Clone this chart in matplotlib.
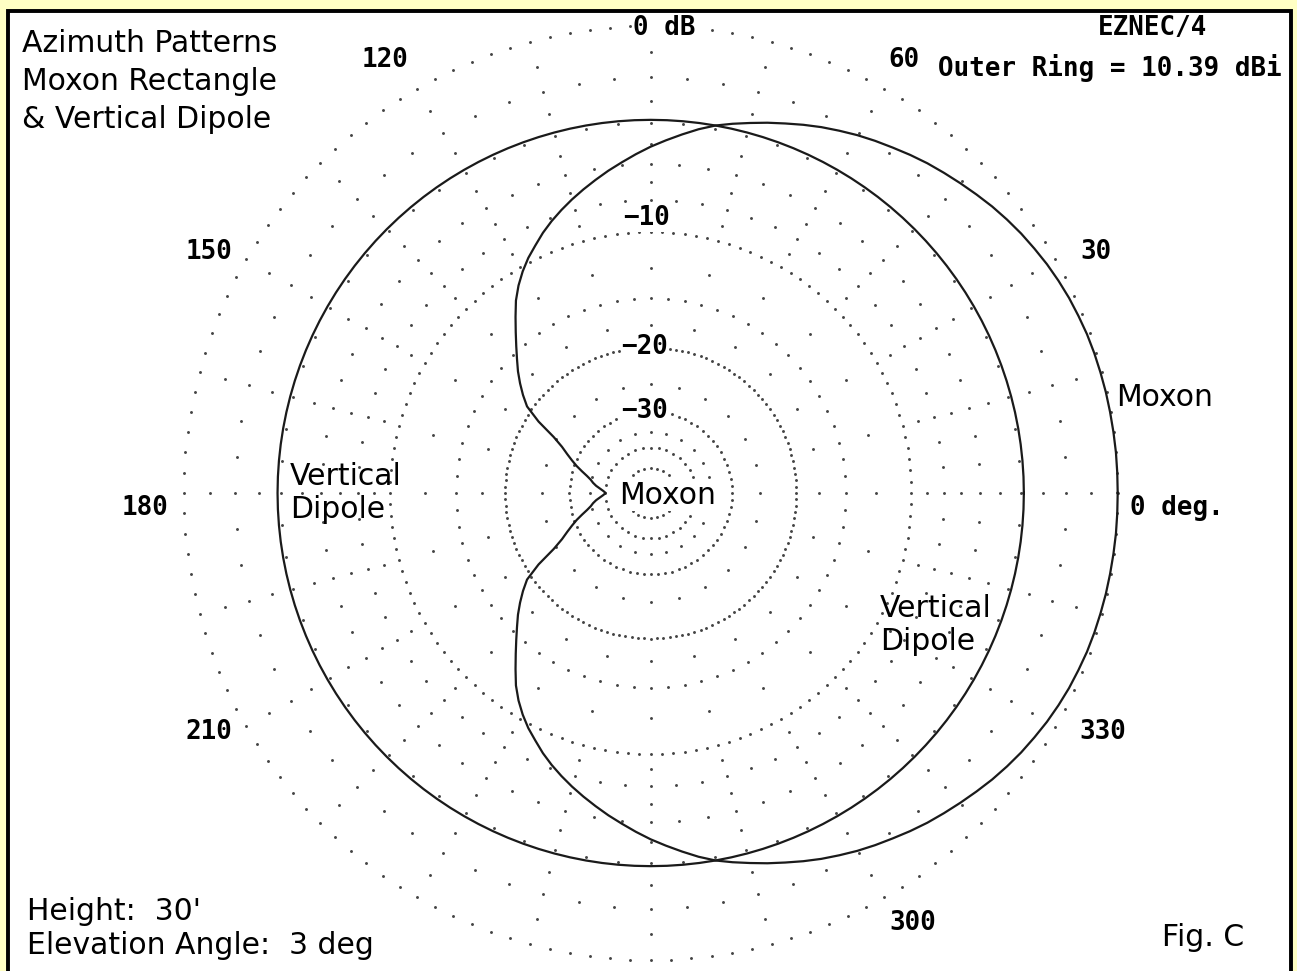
import numpy as np
import matplotlib
matplotlib.use("Agg")
import matplotlib.pyplot as plt
from matplotlib.patches import Rectangle

# Moxon gain relative to the outer ring (dB), 0..180 deg in 2.5 deg steps,
# read off the plot; the pattern is symmetric about the 0/180 axis
az_half = np.arange(0, 180.1, 2.5)
moxon_half = [0.0, 0.0, 0.0, -0.01, -0.02, -0.03, -0.05, -0.07, -0.1, -0.15,
              -0.2, -0.27, -0.35, -0.45, -0.55, -0.67, -0.8, -0.95, -1.1, -1.25,
              -1.4, -1.57, -1.75, -1.92, -2.1, -2.3, -2.5, -2.72, -2.95, -3.17,
              -3.4, -3.62, -3.85, -4.14, -4.47, -4.8, -5.13, -5.49, -5.86, -6.22,
              -6.6, -6.98, -7.37, -7.78, -8.21, -8.68, -9.21, -9.72, -10.32,
              -11.0, -11.79, -12.76, -13.72, -14.64, -15.52, -16.36, -17.29,
              -18.28, -19.38, -21.56, -24.5, -26.45, -27.85, -29.2, -30.55,
              -32.09, -33.58, -34.8, -35.65, -36.7, -38.0, -39.23, -40.15]
dipole_db = -3.85
outer_ring_dbi = 10.39

# grid: (dB, dot spacing in degrees)
ring_db = [0, -2, -4, -6, -8, -10, -15, -20, -30, -40, -50]
ring_step = [2.5, 5, 5, 5, 5, 2.5, 5, 2.5, 5, 10, 15]
spoke_db = [-1, -3, -5, -7, -9, -12.5, -17.5, -25, -35]
spoke_step = 15

angle_labels = ["30", "60", "120", "150", "180", "210", "300", "330"]
angle_pos = [(1096, 252), (904, 60), (385, 60), (209, 252), (145, 508),
             (209, 732), (913, 923), (1103, 732)]
ring_labels = ["0 dB", "-10", "-20", "-30"]
ring_label_pos = [(664, 28), (647, 218), (645, 347), (645, 411)]

W, H = 1297, 971
cx, cy, R = 650.7, 493.0, 467.0

az_deg = np.concatenate([az_half, 360 - az_half[-2::-1]])
moxon_db = np.concatenate([moxon_half, moxon_half[-2::-1]])


def arrl_r(db):
    # ARRL log scale: radius drops by 0.89 every 2 dB
    return R * 0.89 ** (-np.asarray(db, dtype=float) / 2.0)


def to_xy(ang, db):
    t = np.radians(np.asarray(ang, dtype=float))
    r = arrl_r(db)
    return cx + r * np.cos(t), cy - r * np.sin(t)


fig = plt.figure(figsize=(W / 100, H / 100), dpi=100, facecolor="#FFFFC4")
ax = fig.add_axes([0, 0, 1, 1])
ax.set_xlim(0, W)
ax.set_ylim(H, 0)
ax.axis("off")

ax.add_patch(Rectangle((7.5, 11.5), 1283, 1000, facecolor="white",
                       edgecolor="black", lw=2.8, zorder=0))

dot_color = "#444444"
for db, st in zip(ring_db, ring_step):
    a = np.arange(0, 360, st)
    x, y = to_xy(a, np.full(len(a), db))
    ax.plot(x, y, ls="none", marker="o", ms=2.1, mew=0, color=dot_color, zorder=1)
for db in spoke_db:
    a = np.arange(0, 360, spoke_step)
    x, y = to_xy(a, np.full(len(a), db))
    ax.plot(x, y, ls="none", marker="o", ms=2.1, mew=0, color=dot_color, zorder=1)

x, y = to_xy(az_deg, moxon_db)
ax.plot(x, y, color="#1a1a1a", lw=1.6, zorder=3)
x, y = to_xy(az_deg, np.full(len(az_deg), dipole_db))
ax.plot(x, y, color="#1a1a1a", lw=1.6, zorder=3)

mono = dict(family="DejaVu Sans Mono", weight="bold", fontsize=18.6,
            color="black", zorder=4)
for txt, (px, py) in zip(angle_labels, angle_pos):
    ax.text(px, py, txt, ha="center", va="center", **mono)
for txt, (px, py) in zip(ring_labels, ring_label_pos):
    ax.text(px, py, txt.replace("-", "\u2212"), ha="center", va="center",
            bbox=dict(fc="white", ec="none", pad=0.5), **mono)
ax.text(1130, 508, "0 deg.", ha="left", va="center", **mono)
ax.text(1153, 28, "EZNEC/4", ha="center", va="center", **mono)
ax.text(1282, 68, "Outer Ring = %.2f dBi" % outer_ring_dbi, ha="right",
        va="center", **mono)

sans = dict(family="DejaVu Sans", fontsize=21.5, color="black", zorder=4)
ax.text(22, 44, "Azimuth Patterns", ha="left", va="center", **sans)
ax.text(22, 82, "Moxon Rectangle", ha="left", va="center", **sans)
ax.text(22, 120, "& Vertical Dipole", ha="left", va="center", **sans)
ax.text(668, 495, "Moxon", ha="center", va="center",
        bbox=dict(fc="white", ec="none", pad=1), **sans)
ax.text(1116, 398, "Moxon", ha="left", va="center", **sans)
ax.text(290, 493, "Vertical\nDipole", ha="left", va="center",
        linespacing=1.2, **sans)
ax.text(880, 625, "Vertical\nDipole", ha="left", va="center",
        linespacing=1.2, **sans)
ax.text(27, 911, "Height:  30'", ha="left", va="center", **sans)
ax.text(27, 946, "Elevation Angle:  3 deg", ha="left", va="center", **sans)
ax.text(1162, 937, "Fig. C", ha="left", va="center", **sans)

fig.savefig("out.png", dpi=100, facecolor=fig.get_facecolor())
